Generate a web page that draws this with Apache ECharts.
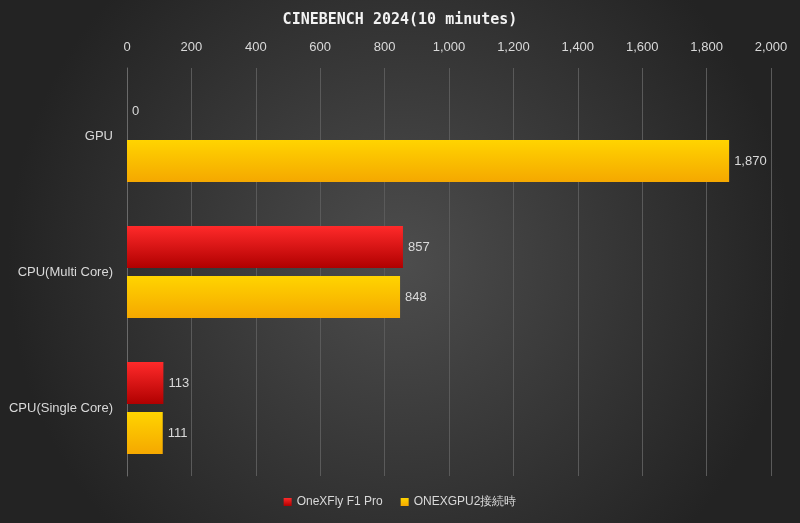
<!DOCTYPE html>
<html><head><meta charset="utf-8">
<script src="https://cdn.jsdelivr.net/npm/echarts@6/dist/echarts.min.js"></script>
<style>html,body{margin:0;padding:0;background:#333}#c{width:800px;height:523px}</style>
</head><body><div id="c"></div>
<script>
const categories = ['GPU', 'CPU(Multi Core)', 'CPU(Single Core)'];
const seriesNames = ['OneXFly F1 Pro', 'ONEXGPU2接続時'];
const f1Values = [0, 857, 113];
const gpu2Values = [1870, 848, 111];
const xTicks = {min: 0, max: 2000, interval: 200};

const chart = echarts.init(document.getElementById('c'));
const grad = (a, b) => new echarts.graphic.LinearGradient(0, 0, 0, 1, [{offset: 0, color: a}, {offset: 1, color: b}]);
const lbl = {show: true, position: 'right', color: '#d9d9d9', fontSize: 13, fontFamily: 'Liberation Sans',
  formatter: p => p.value.toLocaleString('en-US')};
chart.setOption({
  backgroundColor: new echarts.graphic.RadialGradient(0.5, 0.5, 0.75, [{offset: 0, color: '#4d4d4d'}, {offset: 1, color: '#232323'}]),
  title: {text: 'CINEBENCH 2024(10 minutes)', left: 'center', top: 8,
    textStyle: {color: '#f2f2f2', fontSize: 15, fontWeight: 'bold', fontFamily: 'DejaVu Sans Mono'}},
  legend: {bottom: 10, itemWidth: 8, itemHeight: 8, itemGap: 18, icon: 'rect',
    textStyle: {color: '#d9d9d9', fontSize: 12, fontFamily: 'Liberation Sans'}},
  grid: {left: 127, right: 29, top: 68, bottom: 47},
  xAxis: {type: 'value', position: 'top', min: xTicks.min, max: xTicks.max, interval: xTicks.interval,
    axisLabel: {color: '#d9d9d9', fontSize: 13, margin: 14, fontFamily: 'Liberation Sans'},
    splitLine: {lineStyle: {color: '#5a5a5a'}}, axisLine: {show: false}, axisTick: {show: false}},
  yAxis: {type: 'category', data: categories, inverse: true,
    axisLabel: {color: '#d9d9d9', fontSize: 13, margin: 14, fontFamily: 'Liberation Sans'},
    axisLine: {lineStyle: {color: '#6a6a6a'}}, axisTick: {show: false}},
  series: [
    {name: seriesNames[0], type: 'bar', data: f1Values, barWidth: 42, barGap: '19%',
      itemStyle: {color: grad('#ff2a2a', '#b00000')}, label: lbl},
    {name: seriesNames[1], type: 'bar', data: gpu2Values, barWidth: 42,
      itemStyle: {color: grad('#ffd400', '#f5a800')}, label: lbl}
  ]
});
</script></body></html>
